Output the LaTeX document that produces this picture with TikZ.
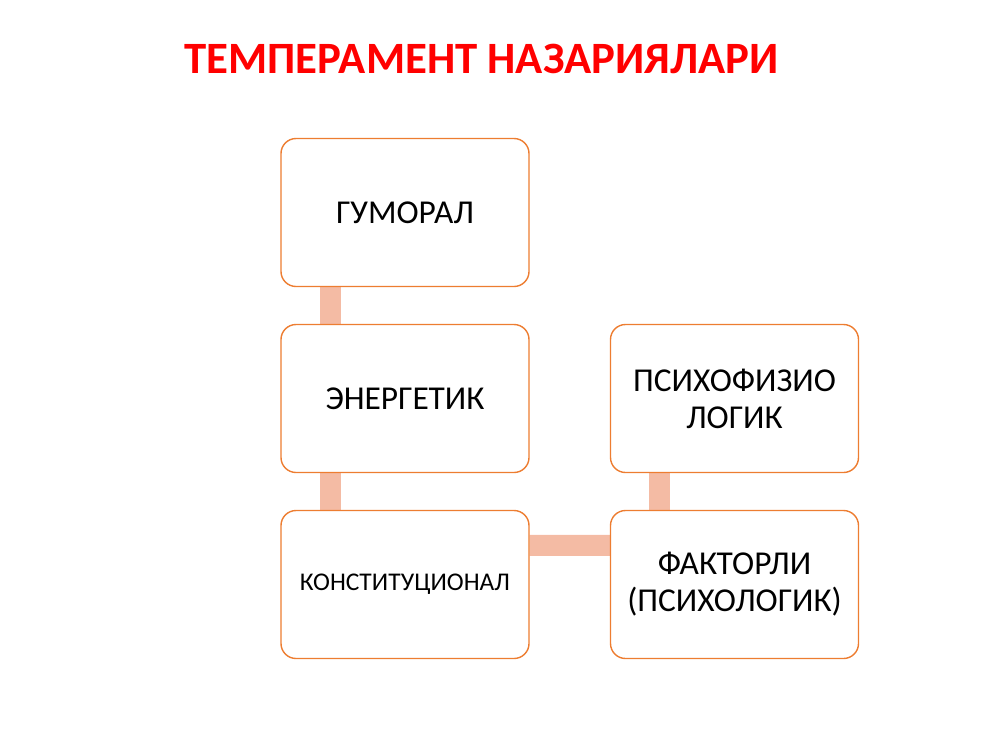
\documentclass[tikz,border=0pt]{standalone}
\usepackage{fontspec}
\setmainfont{Carlito}
\usepackage{tikz}
\usetikzlibrary{shapes, arrows.meta, positioning, backgrounds}
\definecolor{boxorange}{HTML}{ED7D31}
\definecolor{linksalmon}{HTML}{F4BBA4}
\tikzstyle{block} = [rectangle, rounded corners=0.3cm, minimum width=4.96cm, minimum height=2.96cm, text centered, align=center, draw=boxorange, line width=0.8pt, fill=white, font=\fontsize{19}{21}\selectfont]
\tikzstyle{link} = [draw=linksalmon, line width=0.42cm]

\begin{document}
\begin{tikzpicture}[node distance=3.72cm]

    \useasboundingbox (0, 0) rectangle (20, -15);

    \node (title) [anchor=base, text=red, font=\fontsize{25.5}{28}\selectfont\bfseries] at (9.63, -1.46) {ТЕМПЕРАМЕНТ НАЗАРИЯЛАРИ};

    \node (gumoral) [block] at (8.1, -4.25) {ГУМОРАЛ};
    \node (energetik) [block, below of=gumoral] {ЭНЕРГЕТИК};
    \node (konst) [block, below of=energetik, font=\fontsize{14.5}{17}\selectfont] {КОНСТИТУЦИОНАЛ};
    \node (psixofiz) [block] at (14.69, -7.97) {ПСИХОФИЗИО\\ЛОГИК};
    \node (faktor) [block, below of=psixofiz] {ФАКТОРЛИ\\(ПСИХОЛОГИК)};

    \begin{scope}[on background layer]
        \draw [link] ([xshift=1cm]gumoral.south west) -- ([xshift=1cm]energetik.north west);
        \draw [link] ([xshift=1cm]energetik.south west) -- ([xshift=1cm]konst.north west);
        \draw [link] ([xshift=1cm]psixofiz.south west) -- ([xshift=1cm]faktor.north west);
        \draw [link] ([yshift=-0.71cm]konst.north east) -- ([yshift=-0.71cm]faktor.north west);
    \end{scope}

\end{tikzpicture}
\end{document}
